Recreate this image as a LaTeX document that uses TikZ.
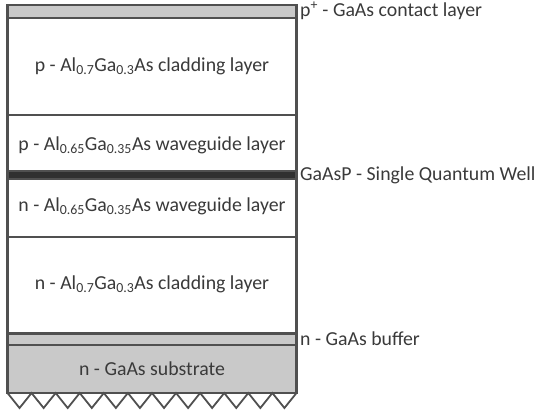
\documentclass[tikz,border=0pt]{standalone}
\usepackage{fontspec}
\setmainfont{Carlito}
\definecolor{edge}{HTML}{505050}
\definecolor{fillg}{HTML}{C9C9C9}
\definecolor{txt}{HTML}{3A3A3A}
\definecolor{qw}{HTML}{303030}
\tikzset{
  layer/.style={draw=edge, line width=2.2pt},
  lbl/.style={text=txt, font=\fontsize{19.8}{22}\selectfont, inner sep=0pt},
  side/.style={lbl, anchor=west},
}
\begin{document}
\begin{tikzpicture}[x=1pt,y=-1pt]
\useasboundingbox (0,0) rectangle (545,411);
% layers
\filldraw[layer, fill=fillg] (7.5,5) rectangle (296.5,18);
\draw[layer, fill=white] (7.5,18) rectangle (296.5,115);
\draw[layer, fill=white] (7.5,115) rectangle (296.5,171);
\filldraw[layer, fill=qw] (7.5,171) rectangle (296.5,179);
\draw[layer, fill=white] (7.5,179) rectangle (296.5,237);
\draw[layer, fill=white] (7.5,237) rectangle (296.5,333.5);
\filldraw[layer, fill=fillg] (7.5,333.5) rectangle (296.5,345);
\filldraw[layer, fill=fillg] (7.5,345) rectangle (296.5,393);
% zigzag
\draw[edge, line width=1.8pt, line join=miter]
  (7.5,393) \foreach \i in {0,...,11} { -- ++(12.04,15) -- ++(12.04,-15) };
% labels in layers
\node[lbl] (clp) at (152,66) {p - Al\textsubscript{0.7}Ga\textsubscript{0.3}As cladding layer};
\node[lbl] (wgp) at (152,145) {p - Al\textsubscript{0.65}Ga\textsubscript{0.35}As waveguide layer};
\node[lbl] (wgn) at (152,206) {n - Al\textsubscript{0.65}Ga\textsubscript{0.35}As waveguide layer};
\node[lbl] (cln) at (152,284) {n - Al\textsubscript{0.7}Ga\textsubscript{0.3}As cladding layer};
\node[lbl] (sub) at (152,369) {n - GaAs substrate};
% side labels
\node[side] (cap) at (300,11) {p\textsuperscript{+} - GaAs contact layer};
\node[side] (sqw) at (300,175) {GaAsP - Single Quantum Well};
\node[side] (buf) at (300,339) {n - GaAs buffer};
\end{tikzpicture}
\end{document}
